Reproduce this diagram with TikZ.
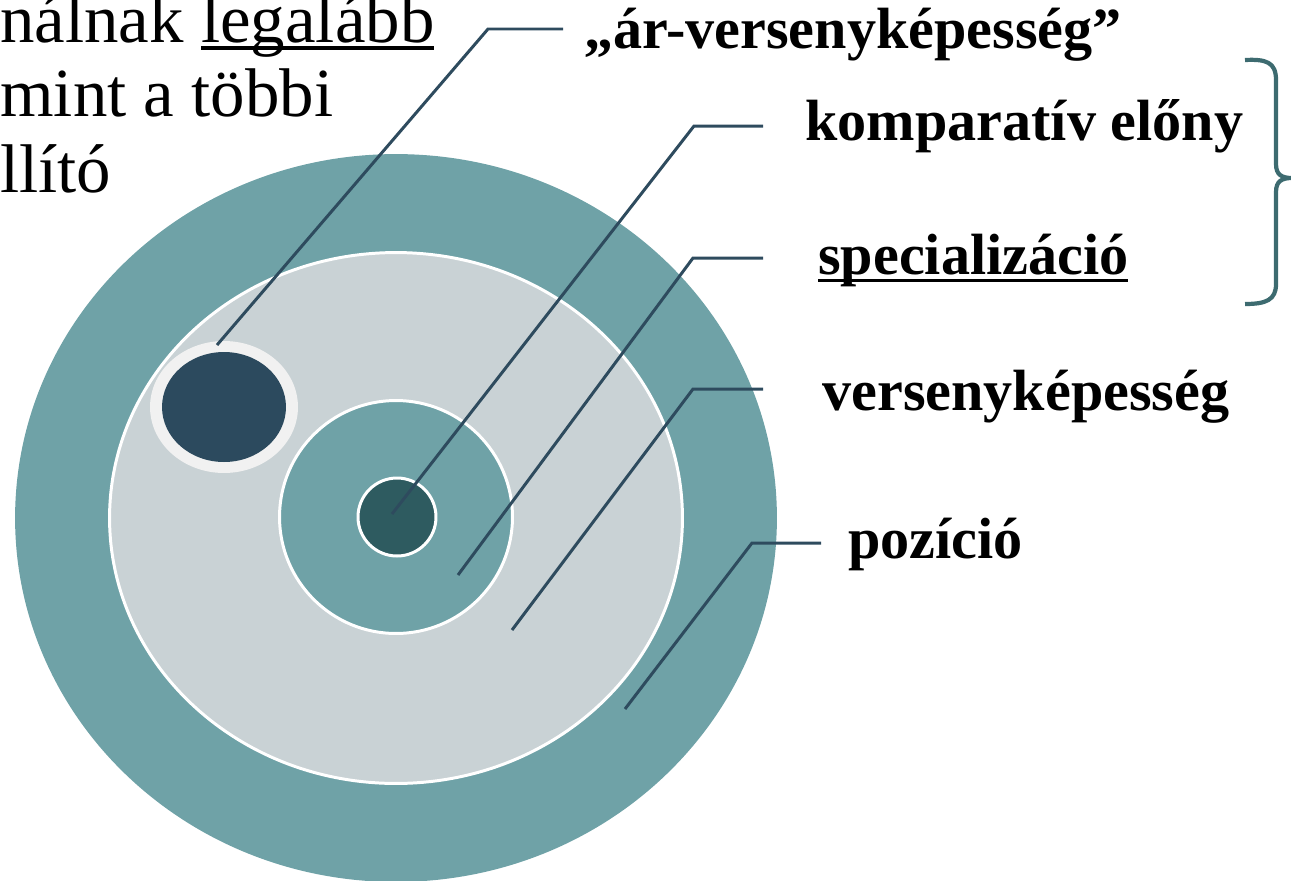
\documentclass[tikz,border=0pt]{standalone}
\usepackage{fontspec}
\setmainfont{Liberation Serif}
\usetikzlibrary{positioning}
\definecolor{outerteal}{HTML}{6FA2A7}
\definecolor{paleblue}{HTML}{C9D2D5}
\definecolor{darkslate}{HTML}{2C4A5E}
\definecolor{coreteal}{HTML}{2E5B60}
\definecolor{ringgray}{HTML}{F1F1F1}
\definecolor{leadcol}{HTML}{2E4B5E}
\definecolor{bracecol}{HTML}{3D6B70}
\newcommand{\ulword}[2]{\setbox0=\hbox{#2}\rlap{\rule[-#1]{\wd0}{0.055em}}\box0}

\begin{document}
\begin{tikzpicture}[x=0.02cm, y=-0.02cm,
    leader/.style={line width=1.7pt, color=leadcol},
    tag/.style={anchor=base west, inner sep=0pt, font=\fontsize{33.1}{40}\selectfont\bfseries},
    quote/.style={anchor=base west, inner sep=0pt, font=\fontsize{39.2}{47}\selectfont},
    rim/.style={draw=white, line width=1.7pt}
  ]
    \useasboundingbox (0,0) rectangle (1291,880);

    \fill[outerteal] (396,518) ellipse [x radius=7.62cm, y radius=7.28cm];
    \filldraw[rim, fill=paleblue] (396,518) ellipse [x radius=5.73cm, y radius=5.31cm];
    \filldraw[rim, fill=outerteal] (396,517) circle [radius=2.33cm];
    \filldraw[rim, fill=coreteal] (397,517) circle [radius=0.78cm];
    \fill[ringgray] (224,407) ellipse [x radius=1.48cm, y radius=1.32cm];
    \fill[darkslate] (224,407) ellipse [x radius=1.24cm, y radius=1.10cm];

    \node[quote] (line1) at (0,42) {nálnak \ulword{4.6pt}{legalább}};
    \node[quote] (line2) at (0,116) {mint a többi};
    \node[quote] (line3) at (0,192) {llító};

    \node[tag] (price) at (584,48) {„ár-versenyképesség”};
    \node[tag] (compar) at (805,140) {komparatív előny};
    \node[tag] (special) at (818,274) {\ulword{4.6pt}{specializáció}};
    \node[tag] (compet) at (822,410) {versenyképesség};
    \node[tag] (posit) at (848,558) {pozíció};

    \coordinate (pricefoot) at (217,345);
    \coordinate (priceknee) at (488,29);
    \coordinate (priceend) at (563,29);
    \coordinate (comparfoot) at (392,514);
    \coordinate (comparknee) at (694,126);
    \coordinate (comparend) at (763,126);
    \coordinate (specialfoot) at (458,575);
    \coordinate (specialknee) at (693,258);
    \coordinate (specialend) at (763,258);
    \coordinate (competfoot) at (512,630);
    \coordinate (competknee) at (693,389);
    \coordinate (competend) at (763,389);
    \coordinate (positfoot) at (625,709);
    \coordinate (positknee) at (752,543);
    \coordinate (positend) at (821,543);

    \draw[leader] (pricefoot) -- (priceknee) -- (priceend);
    \draw[leader] (comparfoot) -- (comparknee) -- (comparend);
    \draw[leader] (specialfoot) -- (specialknee) -- (specialend);
    \draw[leader] (competfoot) -- (competknee) -- (competend);
    \draw[leader] (positfoot) -- (positknee) -- (positend);

    \draw[bracecol, line width=2.4pt]
      (1245,60) .. controls (1266,59) and (1276,62) .. (1276,80) -- (1276,164)
      .. controls (1276,175) and (1282,178) .. (1292,178)
      .. controls (1282,178) and (1276,181) .. (1276,192) -- (1276,284)
      .. controls (1276,300) and (1266,304) .. (1245,304);
  \end{tikzpicture}
\end{document}
